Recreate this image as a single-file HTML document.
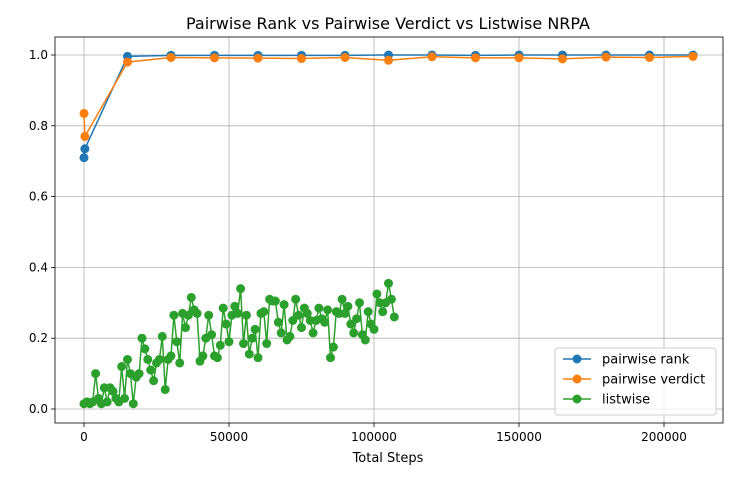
<!DOCTYPE html>
<html><head><meta charset="utf-8"><style>
body{margin:0;background:#fff}
svg{display:block;font-family:"DejaVu Sans","Liberation Sans",sans-serif}
</style></head><body>
<svg id="chart" width="740" height="480">
<text x="388" y="29" text-anchor="middle" font-size="16">Pairwise Rank vs Pairwise Verdict vs Listwise NRPA</text>
<text x="388" y="462" text-anchor="middle" font-size="13">Total Steps</text>
<g id="grid"></g><g id="series"></g><g id="axes"></g>
<g id="legend">
<rect x="555" y="348" width="161" height="67" rx="3" fill="#fff" fill-opacity="0.8" stroke="#ccc"/>
</g>
</svg>
<script>
const xTicks=[0,50000,100000,150000,200000];
const yTicks=[0,0.2,0.4,0.6,0.8,1.0];
const rankSteps=[0,300,15000,30000,45000,60000,75000,90000,105000,120000,135000,150000,165000,180000,195000,210000];
const rankVals=[0.71,0.735,0.996,0.999,0.999,0.999,0.999,0.999,1.0,1.0,0.999,1.0,1.0,1.0,1.0,1.0];
const verdictSteps=[0,300,15000,30000,45000,60000,75000,90000,105000,120000,135000,150000,165000,180000,195000,210000];
const verdictVals=[0.835,0.77,0.98,0.993,0.992,0.991,0.99,0.993,0.985,0.995,0.992,0.992,0.989,0.994,0.993,0.996];
const listSteps=[0,1000,2000,3000,4000,5000,6000,7000,8000,9000,10000,11000,12000,13000,14000,15000,16000,17000,18000,19000,20000,21000,22000,23000,24000,25000,26000,27000,28000,29000,30000,31000,32000,33000,34000,35000,36000,37000,38000,39000,40000,41000,42000,43000,44000,45000,46000,47000,48000,49000,50000,51000,52000,53000,54000,55000,56000,57000,58000,59000,60000,61000,62000,63000,64000,65000,66000,67000,68000,69000,70000,71000,72000,73000,74000,75000,76000,77000,78000,79000,80000,81000,82000,83000,84000,85000,86000,87000,88000,89000,90000,91000,92000,93000,94000,95000,96000,97000,98000,99000,100000,101000,102000,103000,104000,105000,106000,107000];
const listVals=[0.015,0.02,0.015,0.02,0.10,0.03,0.015,0.06,0.02,0.06,0.05,0.03,0.02,0.12,0.03,0.14,0.10,0.015,0.09,0.10,0.20,0.17,0.14,0.11,0.08,0.13,0.14,0.205,0.055,0.14,0.15,0.265,0.19,0.13,0.27,0.23,0.265,0.315,0.28,0.27,0.135,0.15,0.20,0.265,0.21,0.15,0.145,0.18,0.285,0.24,0.19,0.265,0.29,0.27,0.34,0.185,0.265,0.155,0.20,0.225,0.145,0.27,0.275,0.185,0.31,0.305,0.305,0.245,0.215,0.295,0.195,0.205,0.25,0.31,0.265,0.23,0.285,0.27,0.25,0.215,0.25,0.285,0.255,0.245,0.28,0.145,0.175,0.275,0.27,0.31,0.27,0.29,0.24,0.215,0.255,0.30,0.21,0.195,0.275,0.24,0.225,0.325,0.30,0.275,0.30,0.355,0.31,0.26];
const L=55,R=723,T=37,B=423;
const xs=v=>84+v*0.0029;
const ys=v=>409-v*354;
const NS='http://www.w3.org/2000/svg';
function mk(tag,attrs,parent){const e=document.createElementNS(NS,tag);for(const k in attrs)e.setAttribute(k,attrs[k]);parent.appendChild(e);return e;}
const grid=document.getElementById('grid'),axes=document.getElementById('axes'),ser=document.getElementById('series');
xTicks.forEach(t=>{const x=xs(t);
 const g=mk('line',{x1:x,x2:x,y1:T,y2:B,stroke:'#b0b0b0','stroke-width':0.8},grid);
 
 
 mk('line',{x1:x,x2:x,y1:B,y2:B+4,stroke:'#000','stroke-width':0.8},axes);
 const tx=mk('text',{x:x,y:B+18,'text-anchor':'middle','font-size':12},axes);tx.textContent=t;
 
 
});
yTicks.forEach(t=>{const y=ys(t);
 const g=mk('line',{x1:L,x2:R,y1:y,y2:y,stroke:'#b0b0b0','stroke-width':0.8},grid);
 
 
 mk('line',{x1:L-4,x2:L,y1:y,y2:y,stroke:'#000','stroke-width':0.8},axes);
 const tx=mk('text',{x:L-7,y:y+4,'text-anchor':'end','font-size':12},axes);tx.textContent=t.toFixed(1);
 
 
});
const fr=mk('rect',{x:L,y:T,width:R-L,height:B-T,fill:'none',stroke:'#000','stroke-width':0.8},axes);


function series(steps,vals,color,name){
 const g=mk('g',{},ser);
 
 
 const pl=mk('polyline',{points:steps.map((s,i)=>xs(s)+','+ys(vals[i])).join(' '),fill:'none',stroke:color,'stroke-width':1.5},g);
 
 
 steps.forEach((s,i)=>{const c=mk('circle',{cx:xs(s),cy:ys(vals[i]),r:4.5,fill:color},g);
  
  });
}
series(rankSteps,rankVals,'#1f77b4','pairwise-rank');
series(verdictSteps,verdictVals,'#ff7f0e','pairwise-verdict');
series(listSteps,listVals,'#2ca02c','listwise');
const leg=document.getElementById('legend');
[['pairwise rank','#1f77b4'],['pairwise verdict','#ff7f0e'],['listwise','#2ca02c']].forEach((d,i)=>{
 const y=359+i*20;
 const g=mk('g',{},leg);
 
 
 mk('line',{x1:563,x2:591,y1:y,y2:y,stroke:d[1],'stroke-width':1.5},g);
 mk('circle',{cx:577,cy:y,r:4.5,fill:d[1]},g);
 const t=mk('text',{x:602,y:y+4.5,'font-size':13},g);t.textContent=d[0];
});
</script>
</body></html>
